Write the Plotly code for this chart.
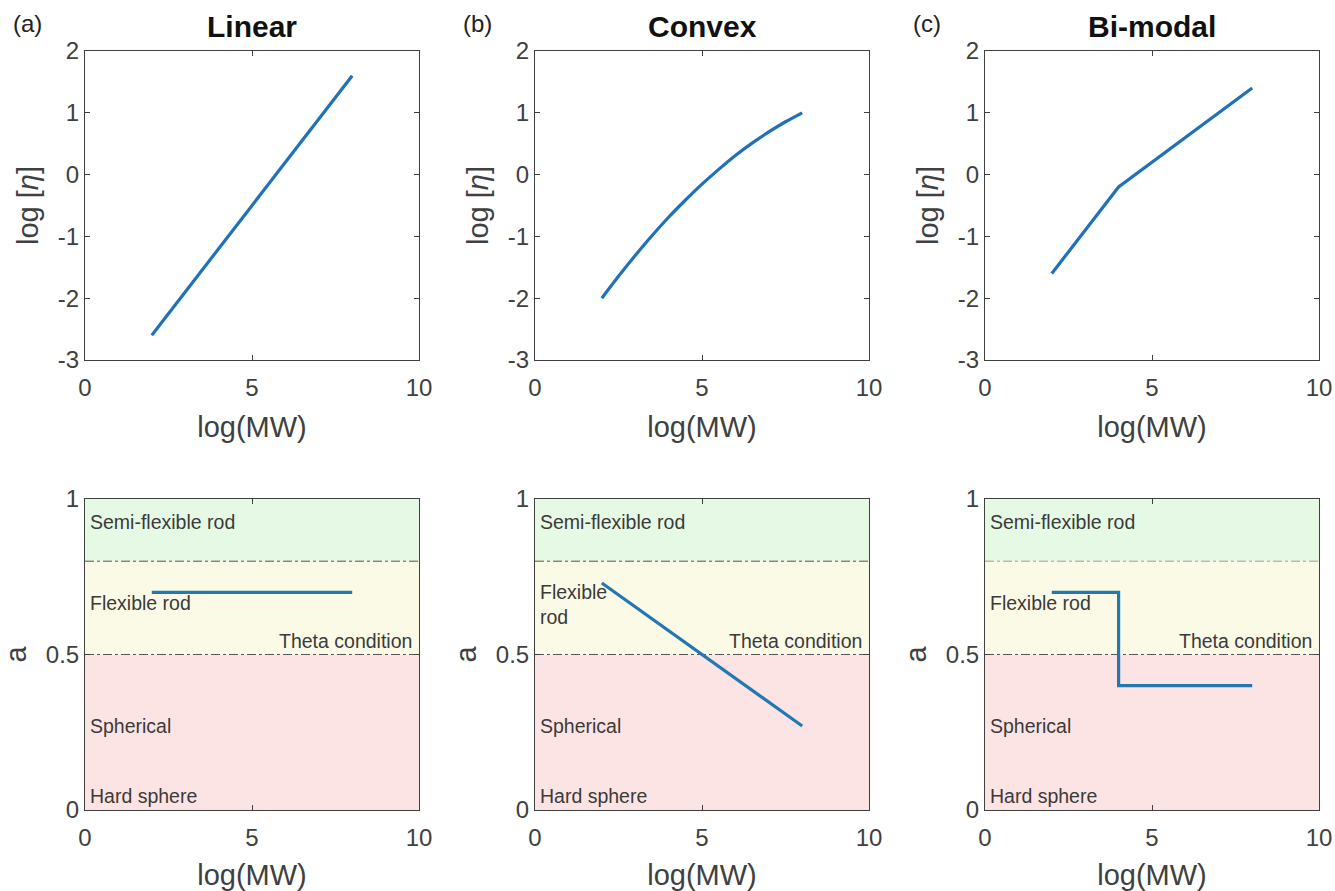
import plotly.graph_objects as go

# ---- data ----
panel_tags = ["(a)", "(b)", "(c)"]
panel_titles = ["Linear", "Convex", "Bi-modal"]

lin_x = [2, 8]
lin_y = [-2.6, 1.6]

cvx_x = [2, 2.5, 3, 3.5, 4, 4.5, 5, 5.5, 6, 6.5, 7, 7.5, 8]
cvx_y = [-2.0, -1.645, -1.31, -0.99, -0.69, -0.415, -0.155, 0.085, 0.31, 0.51, 0.69, 0.855, 1.0]

bim_x = [2, 4, 8]
bim_y = [-1.6, -0.2, 1.4]

a_lin_x = [2, 8]
a_lin_y = [0.7, 0.7]

a_cvx_x = [2, 8]
a_cvx_y = [0.73, 0.27]

a_bim_x = [2, 4, 4, 8]
a_bim_y = [0.7, 0.7, 0.4, 0.4]

top_ticks = [-3, -2, -1, 0, 1, 2]
top_ticktext = ["-3", "-2", "-1", "0", "1", "2"]
bot_ticks = [0, 0.5, 1]
bot_ticktext = ["0", "0.5", "1"]
x_ticks = [0, 5, 10]

region_bounds = [0, 0.5, 0.8, 1.0]
region_colors = ["#fde4e4", "#fafae6", "#e6f9e4"]
thresholds = [0.5, 0.8]

top_x = [lin_x, cvx_x, bim_x]
top_y = [lin_y, cvx_y, bim_y]
top_shape = ["linear", "spline", "linear"]
bot_x = [a_lin_x, a_cvx_x, a_bim_x]
bot_y = [a_lin_y, a_cvx_y, a_bim_y]

W, H = 1335, 891
xdoms = [(85, 419), (535, 869), (985, 1319)]
top_px = (51, 360)
bot_px = (499, 810)

def px2x(p):
    return p / W

def px2y(p):
    return 1 - p / H

FONT = "Liberation Sans, Arial, sans-serif"
TXT = "#404040"
LINE_TOP = "#1f72b8"
LINE_BOT = "#2378b2"

fig = go.Figure()
layout = dict(
    width=W, height=H,
    margin=dict(l=0, r=0, t=0, b=0, autoexpand=False),
    paper_bgcolor="white", plot_bgcolor="white",
    showlegend=False,
    font=dict(family=FONT, color=TXT),
)
annotations = []
shapes = []

def axis_common():
    return dict(
        showline=True, linecolor="#404040", linewidth=1, mirror="ticks",
        ticks="inside", ticklen=5, tickcolor="#404040",
        showgrid=False, zeroline=False, automargin=False,
        tickfont=dict(family=FONT, size=24, color=TXT),
        title_font=dict(family=FONT, size=29, color=TXT),
    )

for i in range(3):
    t = i + 1
    b = i + 4
    xd = (px2x(xdoms[i][0]), px2x(xdoms[i][1]))
    for idx, ypx, xs, ys in [(t, top_px, top_x[i], top_y[i]), (b, bot_px, bot_x[i], bot_y[i])]:
        xa = "xaxis" if idx == 1 else f"xaxis{idx}"
        ya = "yaxis" if idx == 1 else f"yaxis{idx}"
        xr = "x" if idx == 1 else f"x{idx}"
        yr = "y" if idx == 1 else f"y{idx}"
        xax = axis_common()
        xax.update(domain=list(xd), anchor=yr, range=[0, 10], tickvals=x_ticks,
                   ticktext=[str(v) for v in x_ticks], ticklabelstandoff=6,
                   title=dict(text="log(MW)", standoff=16))
        yax = axis_common()
        yd = (px2y(ypx[1]), px2y(ypx[0]))
        if idx <= 3:
            yax.update(domain=list(yd), anchor=xr, range=[-3, 2], tickvals=top_ticks,
                       ticktext=top_ticktext,
                       title=dict(text="log [<i>η</i>]", standoff=10))
            color = LINE_TOP
            shape = top_shape[i]
        else:
            yax.update(domain=list(yd), anchor=xr, range=[0, 1], tickvals=bot_ticks,
                       ticktext=bot_ticktext,
                       title=dict(text="a", standoff=10))
            color = LINE_BOT
            shape = "linear"
        layout[xa] = xax
        layout[ya] = yax
        fig.add_trace(go.Scatter(x=xs, y=ys, mode="lines", xaxis=xr, yaxis=yr,
                                 line=dict(color=color, width=3.2, shape=shape, smoothing=0.6),
                                 hoverinfo="skip"))
        if idx > 3:
            for k in range(3):
                shapes.append(dict(type="rect", xref=xr, yref=yr, x0=0, x1=10,
                                   y0=region_bounds[k], y1=region_bounds[k + 1],
                                   fillcolor=region_colors[k], line=dict(width=0), layer="below"))
            for k, th in enumerate(thresholds):
                lc = "#9a9a9a" if (i == 2 and k == 1) else "#555555"
                shapes.append(dict(type="line", xref=xr, yref=yr, x0=0, x1=10, y0=th, y1=th,
                                   line=dict(color=lc, width=1, dash="dashdot"), layer="below"))
            def ann(x, y, text, xanchor="left"):
                annotations.append(dict(xref=xr, yref=yr, x=x, y=y, text=text, showarrow=False,
                                        xanchor=xanchor, yanchor="middle", align="left",
                                        font=dict(family=FONT, size=19.5, color="#3a3a3a")))
            ann(0.1, 0.925, "Semi-flexible rod")
            if i == 1:
                ann(0.1, 0.66, "Flexible<br>rod")
            else:
                ann(0.1, 0.665, "Flexible rod")
            ann(9.85, 0.543, "Theta condition", xanchor="right")
            ann(0.1, 0.27, "Spherical")
            ann(0.1, 0.044, "Hard sphere")

    cx = (xdoms[i][0] + xdoms[i][1]) / 2
    annotations.append(dict(xref="paper", yref="paper", x=px2x(cx), y=px2y(27), text="<b>%s</b>" % panel_titles[i],
                            showarrow=False, xanchor="center", yanchor="middle",
                            font=dict(family=FONT, size=30, color="#111111")))
    annotations.append(dict(xref="paper", yref="paper", x=px2x(xdoms[i][0] - 74), y=px2y(24), text=panel_tags[i],
                            showarrow=False, xanchor="left", yanchor="middle",
                            font=dict(family=FONT, size=24, color="#222222")))

layout["annotations"] = annotations
layout["shapes"] = shapes
fig.update_layout(**layout)
fig.write_html("out.html")
